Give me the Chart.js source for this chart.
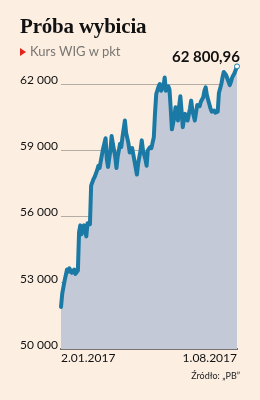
<!DOCTYPE html>
<html>
<head>
<meta charset="utf-8">
<script src="https://cdn.jsdelivr.net/npm/chart.js@4"></script>
<style>
  html, body { margin: 0; padding: 0; background: #fcefe2; }
  #wrap { position: relative; width: 260px; height: 400px; overflow: hidden; background: #fcefe2; }
  #title { position: absolute; left: 20px; top: 14px; font: bold 21px "Liberation Serif", serif; color: #111; letter-spacing: -0.2px; white-space: nowrap; }
  #sub { position: absolute; left: 20px; top: 43px; font: 13px Lato, sans-serif; color: #7a7672; white-space: nowrap; }
  #sub .tri { display: inline-block; width: 0; height: 0; border-top: 4px solid transparent; border-bottom: 4px solid transparent; border-left: 6px solid #e2231a; margin-right: 4px; vertical-align: 0px; }
  #src { position: absolute; right: 20px; top: 370px; font: 9px Lato, sans-serif; color: #222; white-space: nowrap; }
  canvas { position: absolute; left: 0; top: 0; }
</style>
</head>
<body>
<div id="wrap">
  <canvas id="c" width="260" height="400"></canvas>
  <div id="title">Próba wybicia</div>
  <div id="sub"><span class="tri"></span>Kurs WIG w pkt</div>
  <div id="src">Źródło: „PB”</div>
</div>
<script>
// Session index (trading days from 2.01.2017 to 1.08.2017)
const sessions = [0,1,2,3,5,6,7,9,11,12,14,15,16,17,19,21,22,24,25,27,28,30,31,32,34,35,37,38,39,41,42,43,45,46,47,49,50,51,53,54,56,57,59,60,61,63,64,66,67,68,70,71,72,74,75,77,78,79,81,82,83,85,86,87,89,90,91,92,94,95,96,97,98,99,100,101,102,103,104,105,107,108,109,111,112,113,115,116,118,119,120,121,123,124,125,127,128,130,131,133,134,135,137,138,140,141,142,144,146];
// WIG closing values, points
const wig = [51900,52500,52800,53100,53600,53500,53650,53450,53600,53400,53550,55300,55600,55200,55600,55100,55700,55650,57400,57700,57800,58100,58300,58200,58800,59100,59550,58600,58250,59000,59650,59300,58700,58200,58700,59300,59150,59600,60350,59800,59300,58900,59100,58800,58500,57900,58400,59000,59450,59000,58600,58300,59000,59150,59100,59600,60700,61550,61900,62000,61700,61900,62300,61700,61900,61750,60900,59950,60500,60950,60700,60350,61000,61450,60800,60050,60400,60650,60500,60350,60900,61250,60800,60350,60700,61050,61000,61200,61400,61700,61850,61500,61100,60900,60750,60800,60700,60750,61600,62000,62300,62550,62400,62250,61950,62100,62300,62500,62800.96];
const yTicks = [50000, 53000, 56000, 59000, 62000];
const xTickLabels = ['2.01.2017', '1.08.2017'];
const lastLabel = '62 800,96';

const points = sessions.map((s, i) => ({ x: s, y: wig[i] }));
const fmt = v => String(v).replace(/\B(?=(\d{3})+(?!\d))/g, ' ');

const lastLabelPlugin = {
  id: 'lastLabel',
  afterDatasetsDraw(chart) {
    const meta = chart.getDatasetMeta(0);
    const p = meta.data[meta.data.length - 1];
    const ctx = chart.ctx;
    ctx.save();
    ctx.font = 'bold 15px Lato, sans-serif';
    ctx.fillStyle = '#111';
    ctx.textAlign = 'right';
    ctx.textBaseline = 'alphabetic';
    ctx.fillText(lastLabel, chart.chartArea.right + 3, p.y - 4);
    ctx.restore();
  }
};

new Chart(document.getElementById('c'), {
  type: 'line',
  data: {
    datasets: [{
      data: points,
      borderColor: '#1b7aa5',
      backgroundColor: '#c3c9d6',
      borderWidth: 4,
      fill: 'start',
      tension: 0,
      borderJoinStyle: 'round',
      borderCapStyle: 'round',
      pointRadius: ctx => ctx.dataIndex === points.length - 1 ? 2.5 : 0,
      pointBackgroundColor: '#ffffff',
      pointBorderColor: '#1b7aa5',
      pointBorderWidth: 1,
      clip: false
    }]
  },
  options: {
    responsive: false,
    animation: false,
    events: [],
    layout: { padding: { left: 20, right: 23, top: 62, bottom: 31 } },
    plugins: { legend: { display: false }, tooltip: { enabled: false } },
    scales: {
      x: {
        type: 'linear',
        min: sessions[0],
        max: sessions[sessions.length - 1],
        afterBuildTicks: s => { s.ticks = [{ value: sessions[0] }, { value: sessions[sessions.length - 1] }]; },
        afterFit: s => { s.height = 20; },
        grid: { display: false, drawTicks: false },
        border: { display: true, color: '#77726d', width: 2 },
        ticks: {
          autoSkip: false,
          maxRotation: 0,
          align: 'inner',
          padding: 2,
          color: '#111',
          font: { family: 'Lato', size: 12 },
          callback: (v, i) => xTickLabels[i]
        }
      },
      y: {
        min: 50000,
        max: 63000,
        afterBuildTicks: s => { s.ticks = yTicks.map(v => ({ value: v })); },
        afterFit: s => { s.width = 41; },
        grid: {
          drawTicks: false,
          color: ctx => ctx.tick && ctx.tick.value === 50000 ? 'rgba(0,0,0,0)' : '#b3ada6',
          lineWidth: 1
        },
        border: { display: false },
        ticks: {
          crossAlign: 'far',
          labelOffset: -4,
          color: '#111',
          font: { family: 'Lato', size: 12 },
          callback: v => fmt(v)
        }
      }
    }
  },
  plugins: [lastLabelPlugin]
});
</script>
</body>
</html>
